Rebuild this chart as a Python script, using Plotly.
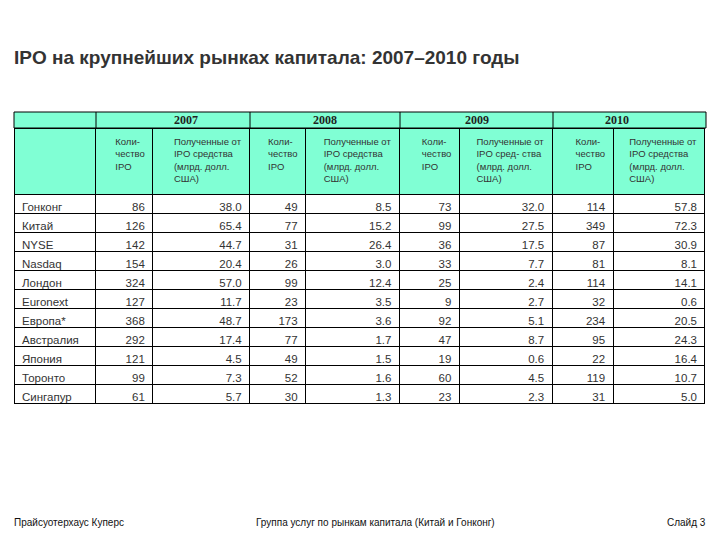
import plotly.graph_objects as go

markets = ["Гонконг","Китай","NYSE","Nasdaq","Лондон","Euronext","Европа*","Австралия","Япония","Торонто","Сингапур"]
years = ["2007","2008","2009","2010"]
cnt2007 = ["86","126","142","154","324","127","368","292","121","99","61"]
fund2007 = ["38.0","65.4","44.7","20.4","57.0","11.7","48.7","17.4","4.5","7.3","5.7"]
cnt2008 = ["49","77","31","26","99","23","173","77","49","52","30"]
fund2008 = ["8.5","15.2","26.4","3.0","12.4","3.5","3.6","1.7","1.5","1.6","1.3"]
cnt2009 = ["73","99","36","33","25","9","92","47","19","60","23"]
fund2009 = ["32.0","27.5","17.5","7.7","2.4","2.7","5.1","8.7","0.6","4.5","2.3"]
cnt2010 = ["114","349","87","81","114","32","234","95","22","119","31"]
fund2010 = ["57.8","72.3","30.9","8.1","14.1","0.6","20.5","24.3","16.4","10.7","5.0"]

W, H = 720, 540
L, R = 14, 706
widths = [82,57,97,56,94,60,93,61,92]
HDR = "#80ffd4"

def px(x): return x / W
def py(y): return 1 - y / H

fig = go.Figure()
sub_cnt = "Коли-<br>чество<br>IPO"
sub_f = "Полученные от<br>IPO средства<br>(млрд. долл.<br>США)"
sub_f9 = "Полученные от<br>IPO сред- ства<br>(млрд. долл.<br>США)"
fig.add_trace(go.Table(
    domain=dict(x=[px(L), px(R)], y=[py(410), py(128)]),
    columnwidth=widths,
    header=dict(values=["", sub_cnt, sub_f, sub_cnt, sub_f, sub_cnt, sub_f9, sub_cnt, sub_f],
                height=66, fill_color=HDR, line_color="black", align="right",
                font=dict(family="Liberation Sans", size=9.5, color="#333")),
    cells=dict(values=[markets, cnt2007, fund2007, cnt2008, fund2008, cnt2009, fund2009, cnt2010, fund2010],
               height=19, fill_color="white", line_color="black",
               align=["left"] + ["right"] * 8,
               font=dict(family="Liberation Sans", size=11.5, color="#333")),
))

# year header row
edges = [L]
for w in widths:
    edges.append(edges[-1] + w)
fig.add_shape(type="rect", xref="paper", yref="paper", x0=px(L), x1=px(R), y0=py(128), y1=py(112),
              fillcolor=HDR, line=dict(color="black", width=1))
for i, y in enumerate(years):
    a, b = edges[1 + 2 * i], edges[3 + 2 * i]
    fig.add_shape(type="line", xref="paper", yref="paper", x0=px(a), x1=px(a), y0=py(128), y1=py(112),
                  line=dict(color="black", width=1))
    fig.add_annotation(text="<b>%s</b>" % y, x=px((a + b) / 2), y=py(112), xref="paper", yref="paper",
                       yanchor="top", showarrow=False, borderpad=0,
                       font=dict(family="Liberation Serif", size=12, color="#222"))

fig.add_annotation(text="<b>IPO на крупнейших рынках капитала: 2007–2010 годы</b>",
                   x=px(12), y=py(58), xref="paper", yref="paper", xanchor="left", yanchor="middle",
                   showarrow=False, font=dict(family="Liberation Sans", size=19, color="#333"))
for txt, x, anc in [("Прайсуотерхаус Куперс", 12, "left"),
                    ("Группа услуг по рынкам капитала (Китай и Гонконг)", 375, "center"),
                    ("Слайд 3", 708, "right")]:
    fig.add_annotation(text=txt, x=px(x), y=py(522), xref="paper", yref="paper", xanchor=anc,
                       yanchor="middle", showarrow=False,
                       font=dict(family="Liberation Sans", size=10, color="#111"))

fig.update_layout(width=W, height=H, margin=dict(l=0, r=0, t=0, b=0),
                  paper_bgcolor="white", plot_bgcolor="white")
fig.write_html("out.html", config={"displayModeBar": False},
               post_script="document.body.style.margin='0';")
